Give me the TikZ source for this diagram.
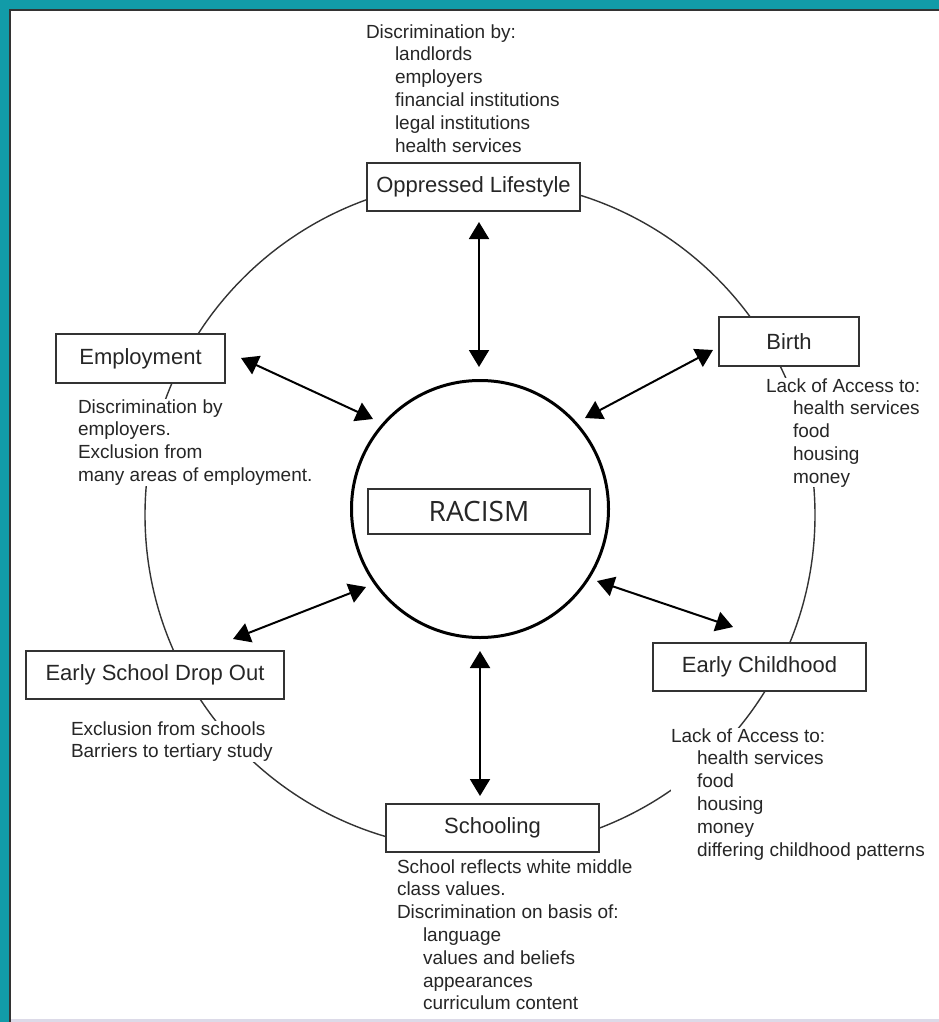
\documentclass[tikz,border=0pt]{standalone}
\usepackage{fontspec}
\setmainfont{Liberation Sans}
\newfontfamily\racfont{Open Sans}
\usetikzlibrary{arrows.meta}
\definecolor{teal1}{RGB}{18,155,168}
\definecolor{ink}{HTML}{262626}
\definecolor{edge}{HTML}{333333}
\definecolor{lav}{RGB}{220,218,232}
\begin{document}
\begin{tikzpicture}[x=1pt,y=-1pt,
 boxnode/.style={draw=edge,line width=1.8pt,fill=white,text=ink,font=\fontsize{22}{26}\selectfont,inner sep=0pt},
 desc/.style={fill=white,text=ink,inner sep=0pt,outer sep=0pt,anchor=north west,align=left,font=\fontsize{19}{22.8}\selectfont},
 ringline/.style={draw=edge,line width=1.4pt},
 dblarrow/.style={line width=2pt,draw=black,{Triangle[length=17pt,width=20pt]}-{Triangle[length=17pt,width=20pt]}}
]
\useasboundingbox (0,0) rectangle (939,1022);
\fill[white] (0,0) rectangle (939,1022);
\fill[teal1] (0,0) rectangle (939,9);
\fill[teal1] (0,0) rectangle (9,1022);
\fill[lav] (10,1019) rectangle (939,1022);
\draw[edge,line width=2.2pt] (10,1022) -- (10,10) -- (939,10);

% outer ring
\draw[ringline] (480,515) circle[radius=335pt];

% boxes
\node[boxnode,minimum width=213pt,minimum height=48pt] (ol) at (473.5,187) {Oppressed Lifestyle};
\node[boxnode,minimum width=169pt,minimum height=49pt] (emp) at (140.5,358.5) {Employment};
\node[boxnode,minimum width=140pt,minimum height=49pt] (birth) at (789,341.5) {Birth};
\node[boxnode,minimum width=258pt,minimum height=48pt] (esd) at (155,675) {Early School Drop Out};
\node[boxnode,minimum width=213pt,minimum height=48pt] (ec) at (759.5,667) {Early Childhood};
\node[boxnode,minimum width=213pt,minimum height=48pt] (sch) at (492.5,828) {Schooling};

% descriptions
\node[desc] (oltext) at (366,24.4) {Discrimination by:\\\hspace*{29pt}landlords\\\hspace*{29pt}employers\\\hspace*{29pt}financial institutions\\\hspace*{29pt}legal institutions\\\hspace*{29pt}health services};
\node[desc] (emptext) at (78,399.4) {Discrimination by\\employers.\\Exclusion from\\many areas of employment.};
\node[desc] (birthtext) at (766,378.4) {Lack of Access to:\\\hspace*{27pt}health services\\\hspace*{27pt}food\\\hspace*{27pt}housing\\\hspace*{27pt}money};
\node[desc] (esdtext) at (71,721.4) {Exclusion from schools\\Barriers to tertiary study};
\node[desc] (ectext) at (671,728.4) {Lack of Access to:\\\hspace*{26pt}health services\\\hspace*{26pt}food\\\hspace*{26pt}housing\\\hspace*{26pt}money\\\hspace*{26pt}differing childhood patterns};
\node[desc] (schtext) at (397,859.4) {School reflects white middle\\class values.\\Discrimination on basis of:\\\hspace*{26pt}language\\\hspace*{26pt}values and beliefs\\\hspace*{26pt}appearances\\\hspace*{26pt}curriculum content};

% centre
\node[circle,draw=black,line width=3pt,minimum size=257pt,inner sep=0pt] (core) at (480,509) {};
\node[draw=edge,line width=2.2pt,minimum width=222pt,minimum height=45pt,inner sep=0pt,text=ink,font=\racfont\fontsize{28}{32}\selectfont] (rac) at (479,511.5) {RACISM};

% arrow end points
\coordinate (a1) at (479,222);
\coordinate (a2) at (479,367);
\coordinate (b1) at (241,358);
\coordinate (b2) at (373,419);
\coordinate (c1) at (713,350);
\coordinate (c2) at (585,418);
\coordinate (d1) at (233,639);
\coordinate (d2) at (366,587);
\coordinate (e1) at (733,627);
\coordinate (e2) at (597,581);
\coordinate (f1) at (480,651);
\coordinate (f2) at (480,796);

\draw[dblarrow] (a1) -- (a2);
\draw[dblarrow] (b1) -- (b2);
\draw[dblarrow] (c1) -- (c2);
\draw[dblarrow] (d1) -- (d2);
\draw[dblarrow] (e1) -- (e2);
\draw[dblarrow] (f1) -- (f2);
\end{tikzpicture}
\end{document}
